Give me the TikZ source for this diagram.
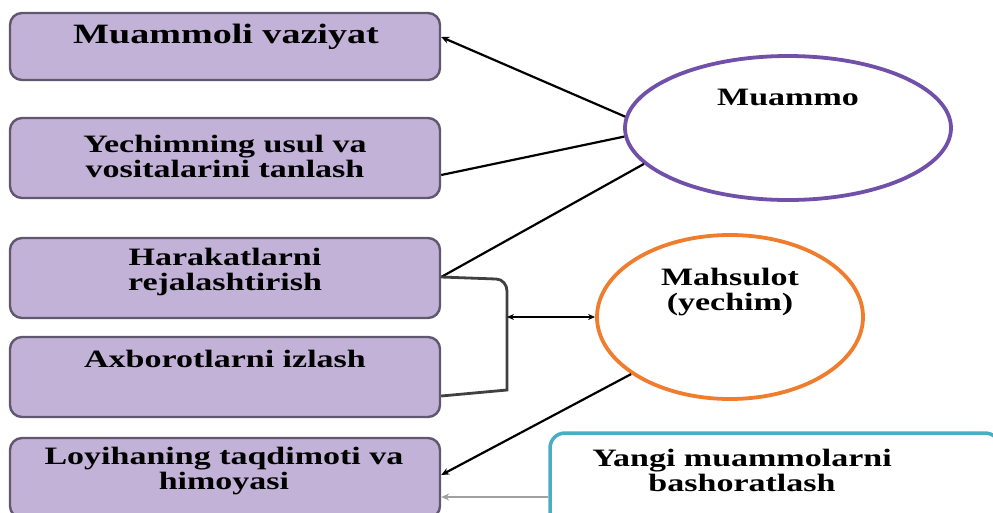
\documentclass[tikz,border=0pt]{standalone}
\usepackage{fontspec}
\setmainfont{Liberation Serif}[FakeStretch=1.36]
\usetikzlibrary{arrows.meta,calc,shapes.geometric}
\definecolor{lav}{RGB}{195,178,216}
\definecolor{boxline}{RGB}{95,88,110}
\definecolor{purp}{RGB}{112,80,168}
\definecolor{orng}{RGB}{240,125,46}
\definecolor{cyanb}{RGB}{75,172,198}
\definecolor{greyl}{RGB}{160,160,160}
\begin{document}
\begin{tikzpicture}[x=1pt,y=-1pt,
  box/.style={draw=boxline, line width=2.4pt, fill=lav, rounded corners=12pt, minimum width=430pt, minimum height=80pt, inner sep=0pt},
  lbl/.style={font=\fontsize{25}{25}\selectfont\bfseries, align=center, inner sep=0pt},
  con/.style={line width=2.2pt, black},
  tip/.style={-{Stealth[length=8pt,width=7pt]}},
  bitip/.style={{Stealth[length=7pt,width=6pt]}-{Stealth[length=7pt,width=6pt]}}]
\useasboundingbox (0,0) rectangle (993,512);
% boxes
\node[box, minimum height=67pt] (b1) at (225,46.5) {};
\node[box] (b2) at (225,158) {};
\node[box] (b3) at (225,278) {};
\node[box] (b4) at (225,377) {};
\node[box] (b5) at (225,478) {};
% ellipses
\node[ellipse, draw=purp, line width=3.8pt, minimum width=326pt, minimum height=144pt, inner sep=0pt] (m1) at (788,128) {};
\node[ellipse, draw=orng, line width=3.8pt, minimum width=266pt, minimum height=164pt, inner sep=0pt] (m2) at (730,317) {};
% new problems box
\node[draw=cyanb, line width=3.5pt, rounded corners=15pt, fill=white, minimum width=450pt, minimum height=128pt, inner sep=0pt] (y) at (775,497) {};
% texts
\node[lbl, font=\fontsize{28}{28}\selectfont\bfseries] (t1) at (226,37) {Muammoli vaziyat};
\node[lbl] (t2) at (225,156) {Yechimning usul va\\vositalarini tanlash};
\node[lbl] (t3) at (225,272) {Harakatlarni\\rejalashtirish};
\node[lbl] (t4) at (225,359) {Axborotlarni izlash};
\node[lbl] (t5) at (224,471) {Loyihaning taqdimoti va\\himoyasi};
\node[lbl] (tm1) at (788,97) {Muammo};
\node[lbl] (tm2) at (730,292) {Mahsulot\\(yechim)};
\node[lbl] (ty) at (742,470) {Yangi muammolarni\\bashoratlash};
% connectors
\draw[con,tip] (m1.176) -- ([yshift=9.5pt]b1.east);
\draw[con] (m1.183) -- ([yshift=-17pt]b2.east);
\draw[con] (m1.194) -- ([yshift=1pt]b3.east);
\coordinate (bk0) at (496,279);
\coordinate (bk1) at (507,291);
\coordinate (bk2) at (507,390);
\coordinate (bm) at (507,317);
\draw[line width=2.8pt, black!75] ([yshift=1pt]b3.east) -- (bk0) to[out=0,in=90] (bk1) -- (bk2) -- ([yshift=-19pt]b4.east);
\draw[con, line width=2pt, bitip] (m2.west) -- (bm);
\draw[con,tip] (m2.210) -- ([yshift=3pt]b5.east);
\draw[line width=2.6pt, greyl, tip] (y.west) -- ([yshift=-19pt]b5.east);
\end{tikzpicture}
\end{document}
